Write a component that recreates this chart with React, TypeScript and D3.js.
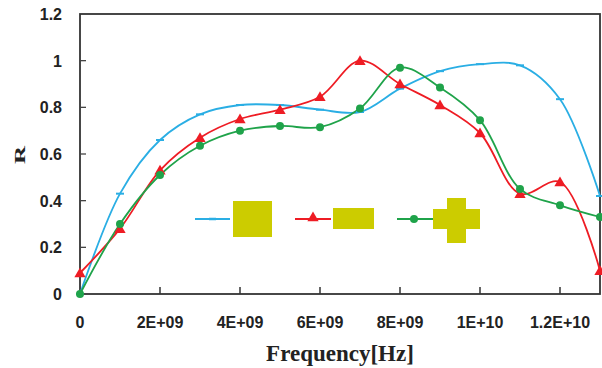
import React from 'react';
import * as d3 from 'd3';

// Frequency points (Hz) and reflection values for the three shapes
const freqs = [0, 1e9, 2e9, 3e9, 4e9, 5e9, 6e9, 7e9, 8e9, 9e9, 1e10, 1.1e10, 1.2e10, 1.3e10];
const squareR = [0.0, 0.43, 0.66, 0.77, 0.81, 0.81, 0.79, 0.78, 0.88, 0.955, 0.985, 0.98, 0.835, 0.42];
const rectR = [0.09, 0.28, 0.53, 0.67, 0.75, 0.79, 0.845, 1.0, 0.9, 0.81, 0.69, 0.43, 0.48, 0.1];
const crossR = [0.0, 0.3, 0.51, 0.635, 0.7, 0.72, 0.715, 0.795, 0.97, 0.885, 0.745, 0.45, 0.38, 0.33];

const xTicks = [0, 2e9, 4e9, 6e9, 8e9, 1e10, 1.2e10];
const xTickLabels = ['0', '2E+09', '4E+09', '6E+09', '8E+09', '1E+10', '1.2E+10'];
const yTicks = [0, 0.2, 0.4, 0.6, 0.8, 1, 1.2];
const yTickLabels = ['0', '0.2', '0.4', '0.6', '0.8', '1', '1.2'];

const BLUE = '#2aaee4';
const RED = '#ee1c24';
const GREEN = '#1fa34a';
const YELLOW = '#cccc00';

const App: React.FC = () => {
  const width = 602;
  const height = 368;
  const m = { left: 80, right: 2, top: 14, bottom: 74 };

  const x = d3.scaleLinear().domain([0, 1.3e10]).range([m.left, width - m.right]);
  const y = d3.scaleLinear().domain([0, 1.2]).range([height - m.bottom, m.top]);

  const line = d3.line<number>()
    .x((_, i) => x(freqs[i]))
    .y(d => y(d))
    .curve(d3.curveCatmullRom.alpha(0.5));

  const tri = d3.symbol().type(d3.symbolTriangle).size(55)();
  const tickFont = "'Liberation Sans', Arial, sans-serif";
  const serif = "'Liberation Serif', 'Times New Roman', serif";

  return (
    <svg width={width} height={height} style={{ position: 'absolute', left: 0, top: 0, background: '#fff' }}>
      {/* plot frame */}
      <rect x={m.left} y={m.top} width={width - m.right - m.left} height={height - m.bottom - m.top}
        fill="none" stroke="#333" strokeWidth={1.8} />

      {/* x ticks */}
      {xTicks.map((t, i) => (
        <g key={'x' + i}>
          {i > 0 && <line x1={x(t)} x2={x(t)} y1={y(0)} y2={y(0) - 7} stroke="#333" strokeWidth={1.5} />}
          <text x={x(t)} y={328} textAnchor="middle" fontFamily={tickFont} fontWeight="bold" fontSize={16} fill="#222">
            {xTickLabels[i]}
          </text>
        </g>
      ))}

      {/* y ticks */}
      {yTicks.map((t, i) => (
        <g key={'y' + i}>
          {i > 0 && i < yTicks.length - 1 && <line x1={m.left} x2={m.left + 6} y1={y(t)} y2={y(t)} stroke="#444" strokeWidth={1.3} />}
          <text x={62} y={y(t) + 6} textAnchor="end" fontFamily={tickFont} fontWeight="bold" fontSize={16} fill="#222">
            {yTickLabels[i]}
          </text>
        </g>
      ))}

      {/* axis titles */}
      <text x={340} y={361} textAnchor="middle" fontFamily={serif} fontWeight="bold" fontSize={23} fill="#222">
        Frequency[Hz]
      </text>
      <text transform="translate(25,155) rotate(-90) scale(1,0.62)" textAnchor="middle" fontFamily={serif}
        fontWeight="bold" fontSize={25} fill="#222">R</text>

      {/* series lines */}
      <path d={line(squareR) || ''} fill="none" stroke={BLUE} strokeWidth={1.8} />
      <path d={line(rectR) || ''} fill="none" stroke={RED} strokeWidth={1.8} />
      <path d={line(crossR) || ''} fill="none" stroke={GREEN} strokeWidth={1.8} />

      {/* markers */}
      {squareR.map((v, i) => (
        <line key={'bm' + i} x1={x(freqs[i]) - 4} x2={x(freqs[i]) + 4} y1={y(v)} y2={y(v)} stroke={BLUE} strokeWidth={2} />
      ))}
      {rectR.map((v, i) => (
        <path key={'rm' + i} d={tri || ''} transform={`translate(${x(freqs[i])},${y(v) + 1})`} fill={RED} />
      ))}
      {crossR.map((v, i) => (
        <circle key={'gm' + i} cx={x(freqs[i])} cy={y(v)} r={4} fill={GREEN} />
      ))}

      {/* legend */}
      <g>
        <line x1={195} x2={230} y1={219} y2={219} stroke={BLUE} strokeWidth={2} />
        <line x1={209} x2={216} y1={219} y2={219} stroke={BLUE} strokeWidth={2.5} />
        <rect x={233} y={201} width={39} height={36} fill={YELLOW} />

        <line x1={295} x2={331} y1={219} y2={219} stroke={RED} strokeWidth={2} />
        <path d={tri || ''} transform="translate(313,218)" fill={RED} />
        <rect x={333} y={208} width={41} height={21} fill={YELLOW} />

        <line x1={397} x2={433} y1={219} y2={219} stroke={GREEN} strokeWidth={2} />
        <circle cx={414} cy={219} r={4} fill={GREEN} />
        <rect x={447} y={198} width={19} height={45} fill={YELLOW} />
        <rect x={433} y={209} width={47} height={20} fill={YELLOW} />
      </g>
    </svg>
  );
};

export default App;
